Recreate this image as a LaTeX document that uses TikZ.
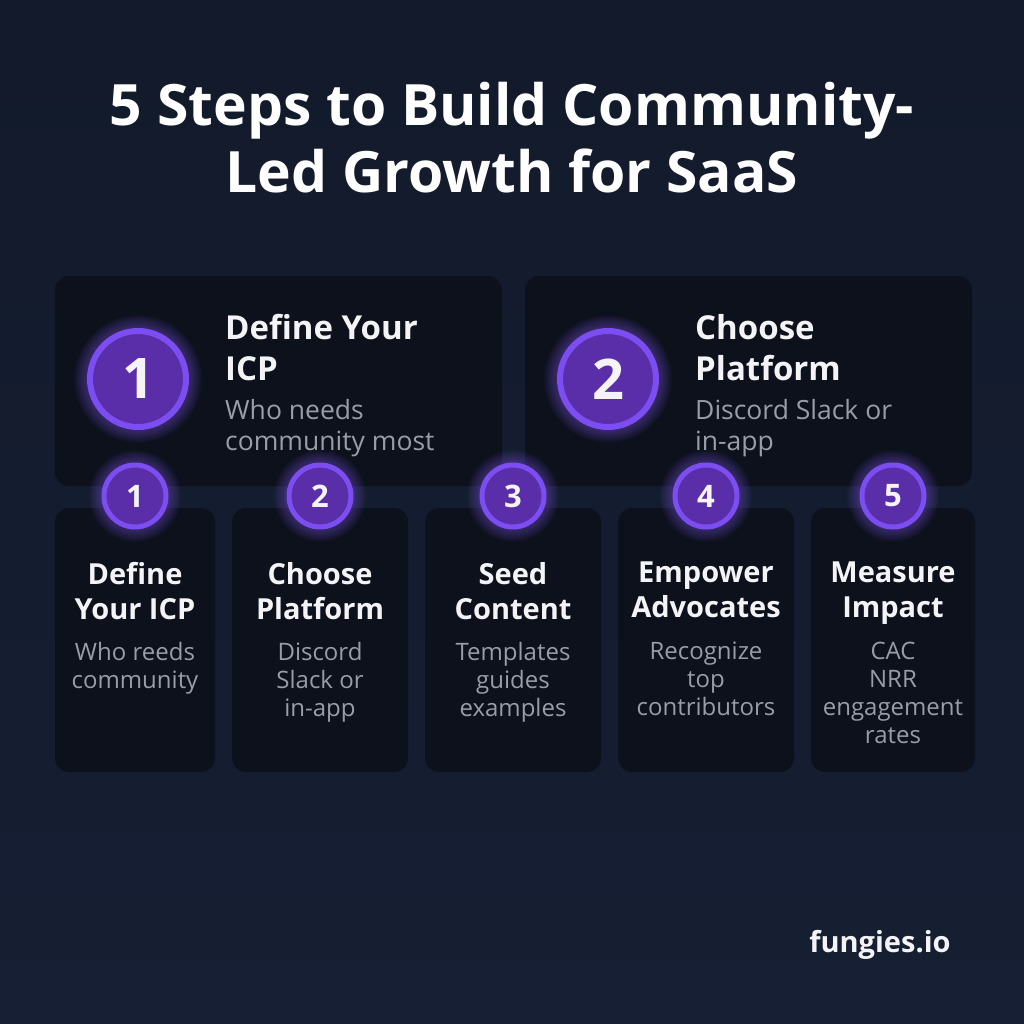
\documentclass[tikz,border=0pt]{standalone}
\usepackage{fontspec}
\setmainfont{Open Sans}
\definecolor{bgtop}{HTML}{121A2B}
\definecolor{bgbot}{HTML}{161F33}
\definecolor{card}{HTML}{0C111C}
\definecolor{ring}{HTML}{7C4DF0}
\definecolor{disc}{HTML}{5A2EA8}
\definecolor{glow}{HTML}{8B5CF6}
\definecolor{head}{HTML}{F4F4F7}
\definecolor{desc}{HTML}{9A9CA6}
\tikzset{
  cardbox/.style={fill=card, rounded corners=14pt, draw=none},
  bignum/.style={circle, fill=disc, draw=ring, line width=6pt, minimum size=96pt, inner sep=0pt, text=head, font=\bfseries\fontsize{56pt}{56pt}\selectfont},
  smallnum/.style={circle, fill=disc, draw=ring, line width=5pt, minimum size=62pt, inner sep=0pt, text=head, font=\bfseries\fontsize{31pt}{31pt}\selectfont},
  bighead/.style={anchor=north west, align=left, inner sep=0pt, text=head, font=\bfseries\fontsize{33pt}{41pt}\selectfont},
  bigdesc/.style={anchor=north west, align=left, inner sep=0pt, text=desc, font=\fontsize{26.5pt}{31pt}\selectfont},
  smallhead/.style={anchor=north, align=center, inner sep=0pt, text=head, font=\bfseries\fontsize{29pt}{35pt}\selectfont, execute at begin node=\strut},
  smalldesc/.style={anchor=north, align=center, inner sep=0pt, text=desc, font=\fontsize{24pt}{28pt}\selectfont, execute at begin node=\strut},
}
\newcommand{\glowat}[2]{%
  \foreach \k in {1,...,8}{\fill[glow, opacity=0.05] (#1) circle ({#2+\k*1.6pt});}}
\begin{document}
\begin{tikzpicture}[x=1pt,y=-1pt]
\shade[top color=bgtop, bottom color=bgbot] (0,0) rectangle (1024,1024);
\useasboundingbox (0,0) rectangle (1024,1024);
% title
\node[text=white, font=\bfseries\fontsize{57pt}{67pt}\selectfont, align=center, inner sep=0pt] (title) at (512,138) {5 Steps to Build Community-\\Led Growth for SaaS};
% big cards
\fill[cardbox] (55,276) rectangle (502,486);
\fill[cardbox] (525,276) rectangle (972,486);
\glowat{138,379}{51}
\node[bignum] (b1) at (138,379) {1};
\glowat{608,379}{51}
\node[bignum] (b2) at (608,379) {2};
\node[bighead] (bh1) at (225,314) {Define Your\\ICP};
\node[bigdesc] (bd1) at (225,399) {Who needs\\community most};
\node[bighead] (bh2) at (695,314) {Choose\\Platform};
\node[bigdesc] (bd2) at (695,399) {Discord Slack or\\in-app};
% small cards
\fill[cardbox] (55,508) rectangle (215,772);
\fill[cardbox] (232,508) rectangle (408,772);
\fill[cardbox] (425,508) rectangle (601,772);
\fill[cardbox] (618,508) rectangle (794,772);
\fill[cardbox] (811,508) rectangle (975,772);
\foreach \x/\n in {135/1,320/2,513/3,706/4,893/5}{
  \glowat{\x,496}{33}
  \node[smallnum] (s\n) at (\x,496) {\n};
}
\node[smallhead] (h1) at (135,562) {Define\\Your ICP};
\node[smalldesc] (d1) at (135,642) {Who reeds\\community};
\node[smallhead] (h2) at (320,562) {Choose\\Platform};
\node[smalldesc] (d2) at (320,642) {Discord\\Slack or\\in-app};
\node[smallhead] (h3) at (513,562) {Seed\\Content};
\node[smalldesc] (d3) at (513,642) {Templates\\guides\\examples};
\node[smallhead] (h4) at (706,562) {Empower\\Advocates};
\node[smalldesc] (d4) at (706,642) {Recognize\\top\\contributors};
\node[smallhead] (h5) at (893,562) {Measure\\Impact};
\node[smalldesc] (d5) at (893,642) {CAC\\NRR\\engagement\\rates};
% footer
\node[text=head, font=\bfseries\fontsize{29pt}{29pt}\selectfont, inner sep=0pt] (brand) at (880,945) {fungies.io};
\end{tikzpicture}
\end{document}
